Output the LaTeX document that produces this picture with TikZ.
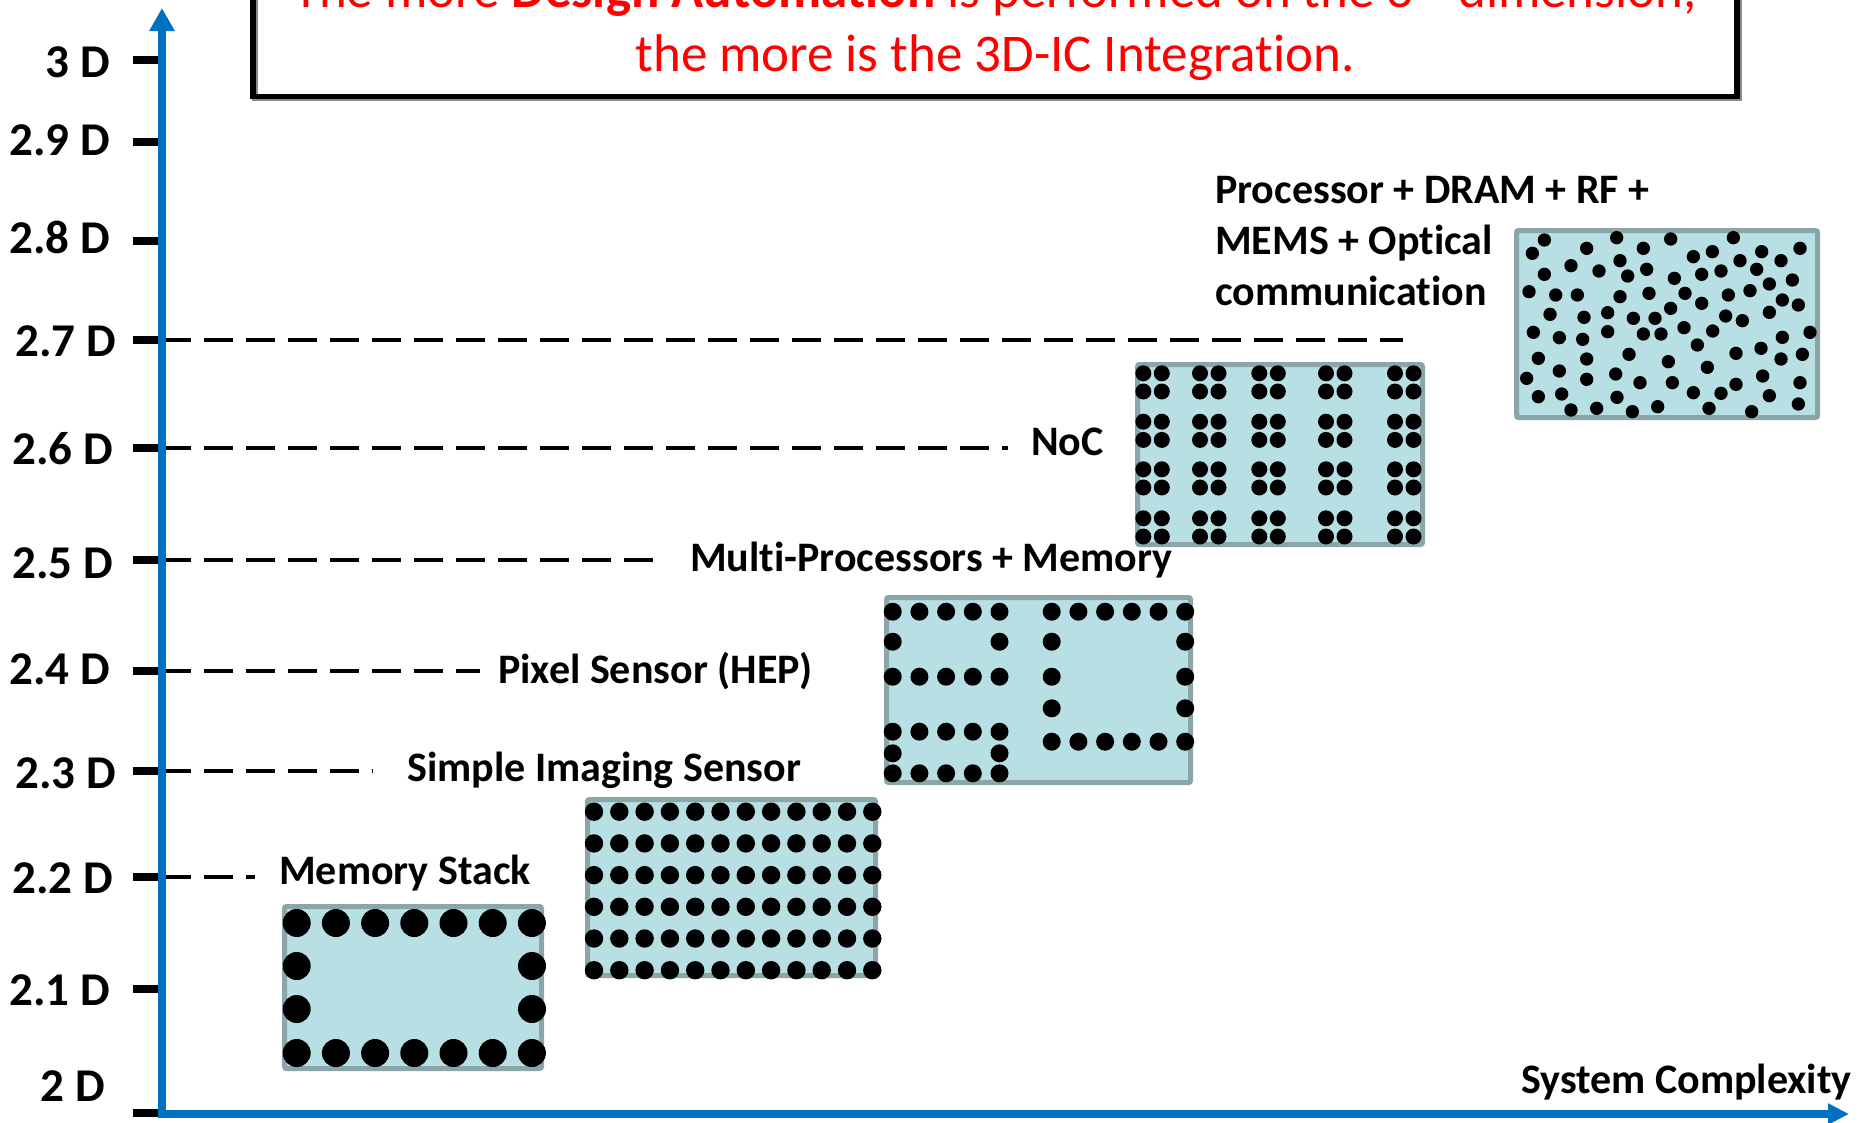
\documentclass[tikz,border=0pt]{standalone}
\usepackage{fontspec}
\setmainfont{Carlito}[Ligatures=NoCommon]
\usetikzlibrary{arrows.meta}
\definecolor{axisblue}{HTML}{0070C0}
\definecolor{boxfill}{HTML}{B8DFE3}
\definecolor{boxedge}{HTML}{8AA6A8}
\definecolor{msgred}{HTML}{FF0000}
\begin{document}
\begin{tikzpicture}[x=1pt,y=-1pt,
  axisline/.style={axisblue, line width=7.5pt},
  tickmark/.style={black, line width=8.5pt},
  ticklab/.style={anchor=base east, inner sep=0pt, font=\fontsize{47}{56}\selectfont\bfseries},
  lab/.style={anchor=base west, inner sep=0pt, font=\fontsize{42}{51}\selectfont\bfseries},
  msg/.style={anchor=base, inner sep=0pt, text=msgred, font=\fontsize{53}{64}\selectfont},
  guide/.style={black, line width=3.5pt, dash pattern=on 29pt off 13pt},
  chip/.style={draw=boxedge, fill=boxfill, line width=5pt, rounded corners=2pt},
]
\clip (0,0) rectangle (1859,1122);
\fill[white] (0,0) rectangle (1859,1122);

% message box
\draw[black!45, line width=5.5pt] (255,-20) rectangle (1739,98.5);
\draw[black, line width=5.5pt] (253,-20) rectangle (1737,96.5);
\node[msg] (msg1) at (995,7.5) {The more \textbf{Design Automation} is performed on the 3\textsuperscript{rd} dimension,};
\node[msg] (msg2) at (995,71) {the more is the 3D-IC Integration.};

% tick marks
\foreach \yy in {60,142,241,340,448,560,671,771,877,989,1113}
  \draw[tickmark] (133,\yy) -- (162,\yy);

% tick labels
\node[ticklab] (t30) at (110,77) {3 D};
\node[ticklab] (t29) at (110,155) {2.9 D};
\node[ticklab] (t28) at (110,253) {2.8 D};
\node[ticklab] (t27) at (116,356) {2.7 D};
\node[ticklab] (t26) at (113,464) {2.6 D};
\node[ticklab] (t25) at (113,578) {2.5 D};
\node[ticklab] (t24) at (110,684) {2.4 D};
\node[ticklab] (t23) at (116,788) {2.3 D};
\node[ticklab] (t22) at (113,893) {2.2 D};
\node[ticklab] (t21) at (110,1005) {2.1 D};
\node[ticklab] (t20) at (105,1101) {2 D};

% guide lines
\draw[guide] (162,877) -- (255,877);
\draw[guide] (162,771) -- (373,771);
\draw[guide] (162,671) -- (480,671);
\draw[guide] (162,560) -- (666,560);
\draw[guide] (162,448) -- (1008,448);
\draw[guide] (162,340) -- (1403,340);

% labels
\node[lab] (lmem) at (279,884) {Memory Stack};
\node[lab] (limg) at (407,781) {Simple Imaging Sensor};
\node[lab] (lpix) at (498,683) {Pixel Sensor (HEP)};
\node[lab] (lmp) at (690,571) {Multi-Processors + Memory};
\node[lab] (lnoc) at (1031,455) {NoC};
\node[lab] (lp1) at (1215,203) {Processor + DRAM + RF +};
\node[lab] (lp2) at (1215,254) {MEMS + Optical};
\node[lab] (lp3) at (1215,305) {communication};

% box 1: memory stack
\draw[chip] (284.5,906.5) rectangle (541.5,1068.5);
\foreach \i in {0,...,6} {
  \fill (296.7+\i*39.2,923) circle[radius=14];
  \fill (296.7+\i*39.2,1053) circle[radius=14];
}
\foreach \yy in {966,1009} {
  \fill (296.7,\yy) circle[radius=14];
  \fill (532,\yy) circle[radius=14];
}

% box 2: imaging sensor
\draw[chip] (587.5,799.5) rectangle (875.5,975.5);
\foreach \i in {0,...,11}
  \foreach \j in {0,...,5}
    \fill (594+\i*25.3,811.7+\j*31.7) circle[radius=9.2];

% box 3: pixel sensor
\draw[chip] (886.5,597.5) rectangle (1190.5,782.5);
\foreach \i in {0,...,4}
  \foreach \yy in {611.7,676.7,731.7,773.3}
    \fill (892.7+\i*26.7,\yy) circle[radius=9];
\foreach \i in {0,4}
  \foreach \yy in {641.7,753.3}
    \fill (892.7+\i*26.7,\yy) circle[radius=9];
\foreach \i in {0,...,5}
  \foreach \yy in {611.7,741.7}
    \fill (1051.7+\i*26.7,\yy) circle[radius=9];
\foreach \i in {0,5}
  \foreach \yy in {641.7,676.7,708.3}
    \fill (1051.7+\i*26.7,\yy) circle[radius=9];

% box 4: NoC
\draw[chip] (1137.5,364.5) rectangle (1422.5,544.5);
\foreach \gx in {1143.3,1200,1259.3,1326,1395}
  \foreach \gy in {373.3,421.7,469.3,518.3} {
    \fill (\gx,\gy) circle[radius=8];
    \fill (\gx+18.5,\gy) circle[radius=8];
    \fill (\gx,\gy+18.2) circle[radius=8];
    \fill (\gx+18.5,\gy+18.2) circle[radius=8];
  }

% box 5: heterogeneous
\draw[chip] (1516.5,230.5) rectangle (1817.5,417.5);
\begin{scope}[shift={(1505,215)}, scale=1/3]
\foreach \p in {(118,75),(82,115),(245,100),(335,68),(415,100),(497,72),(685,68),(885,100),
  (770,110),(622,110),(565,125),(705,137),(828,137),(345,137),(198,152),(118,178),(282,168),
  (368,183),(425,163),(508,190),(590,178),(648,168),(755,163),(862,195),(793,207),(72,230),
  (152,240),(217,240),(345,245),(432,235),(540,235),(590,265),(670,240),(735,227),(832,255),
  (880,270),(135,298),(237,307),(308,293),(385,310),(450,310),(497,280),(662,303),(712,317),
  (793,292),(85,352),(163,368),(233,373),(308,350),(415,357),(468,357),(537,338),(623,348),
  (915,352),(832,367),(577,390),(100,430),(245,432),(372,418),(490,440),(693,415),(768,400),
  (892,418),(828,432),(607,457),(163,468),(65,490),(245,493),(332,477),(405,503),(502,503),
  (693,508),(773,483),(885,503),(100,545),(170,537),(336,547),(565,533),(648,535),(793,542),
  (880,567),(198,585),(275,580),(382,590),(458,575),(612,580),(740,590)}
  \fill \p circle[radius=20];
\end{scope}

% axes
\node[lab] (lsys) at (1521,1093) {System Complexity};
\draw[axisline, -{Triangle[width=20pt,length=21pt]}] (158,1114) -- (1849,1114);
\draw[axisline, -{Triangle[width=24pt,length=23pt]}] (162,1118) -- (162,8);
\end{tikzpicture}
\end{document}
